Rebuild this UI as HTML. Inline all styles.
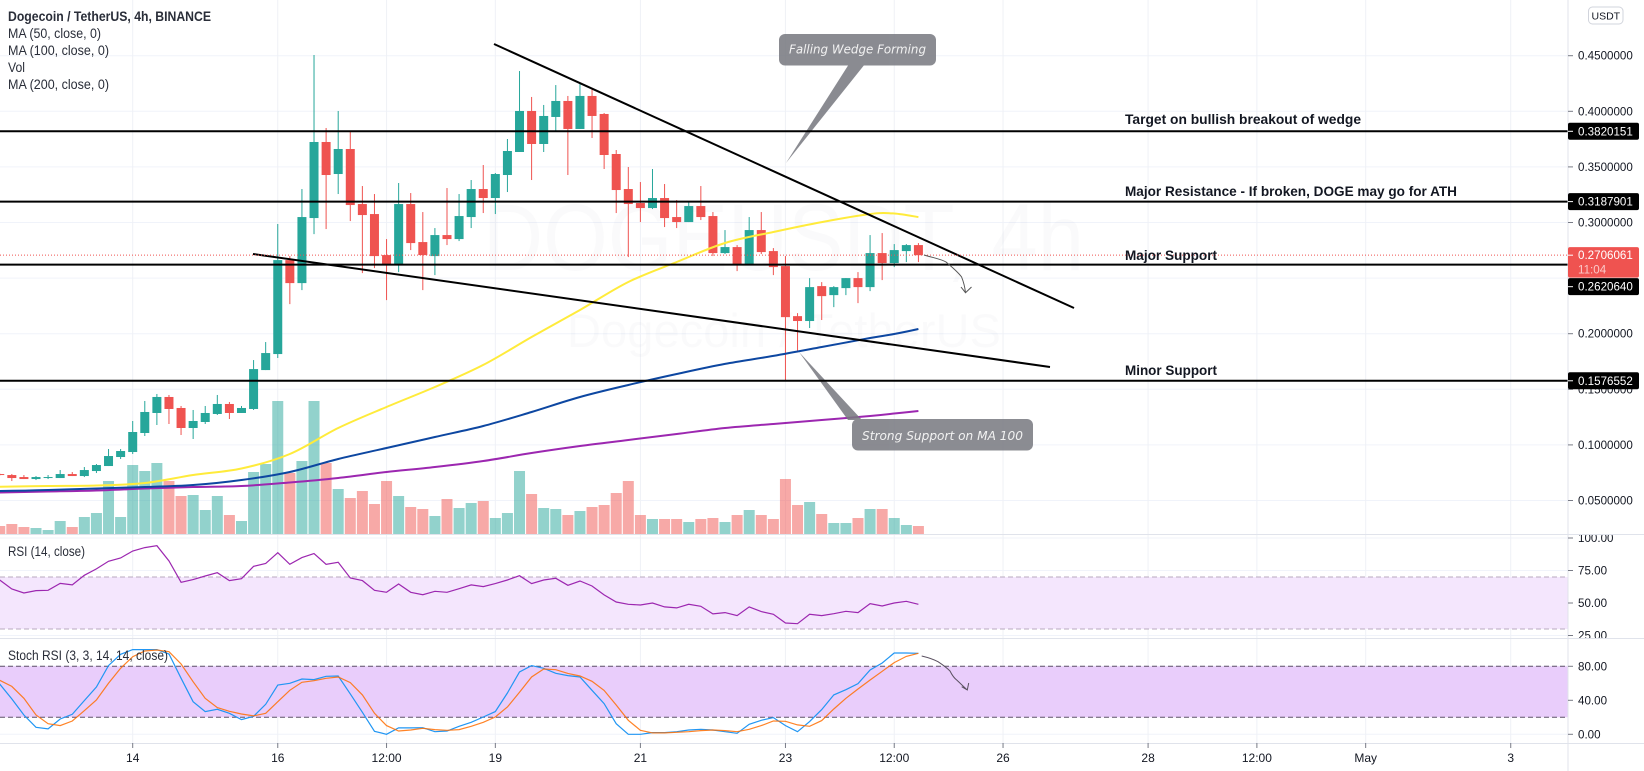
<!DOCTYPE html>
<html lang="en">
<head>
<meta charset="utf-8">
<title>Dogecoin / TetherUS, 4h chart</title>
<style>
html,body{margin:0;padding:0;background:#fff;width:1644px;height:771px;overflow:hidden}
svg{display:block;font-family:"Liberation Sans",sans-serif}
</style>
</head>
<body>
<svg id="chart" xmlns="http://www.w3.org/2000/svg" width="1644" height="771" viewBox="0 0 1644 771">
<defs>
<clipPath id="rsi-clip"><rect x="0" y="535" width="1644" height="103"/></clipPath>
</defs>
<rect x="0" y="0" width="1644" height="771" fill="#ffffff"/>
<g id="grid"></g>
<g fill="#131722" fill-opacity="0.02">
<text x="483" y="270" font-size="95" textLength="601" lengthAdjust="spacingAndGlyphs">DOGEUSDT, 4h</text>
<text x="567" y="347" font-size="47" textLength="434" lengthAdjust="spacingAndGlyphs">Dogecoin / TetherUS</text>
</g>
<rect x="0" y="577" width="1568" height="52" fill="#f4e6fd"/>
<line x1="0" x2="1568" y1="577" y2="577" stroke="#b8aabf" stroke-dasharray="5 3"/>
<line x1="0" x2="1568" y1="629" y2="629" stroke="#b8aabf" stroke-dasharray="5 3"/>
<rect x="0" y="666.3" width="1568" height="51" fill="#e9cdfb"/>
<line x1="0" x2="1568" y1="666.3" y2="666.3" stroke="#5d5068" stroke-dasharray="5 3"/>
<line x1="0" x2="1568" y1="717.3" y2="717.3" stroke="#5d5068" stroke-dasharray="5 3"/>
<g id="volumes"></g>
<g id="candles"></g>
<g id="mas"></g>
<g id="oscillators"></g>
<g opacity="0.86">
<path d="M849 64 L865 64 L786 163 Z" fill="#787980"/>
<rect x="779" y="34" width="157" height="31.5" rx="6" fill="#787980"/>
</g>
<text x="789" y="53.5" font-family="DejaVu Sans, sans-serif" font-style="italic" font-size="12.5" fill="#f2f2f2" textLength="137" lengthAdjust="spacingAndGlyphs">Falling Wedge Forming</text>
<g opacity="0.86">
<path d="M848 420 L862 420 L799 352 Z" fill="#787980"/>
<rect x="852" y="419" width="181" height="31.5" rx="6" fill="#787980"/>
</g>
<text x="862" y="440" font-family="DejaVu Sans, sans-serif" font-style="italic" font-size="12.5" fill="#f2f2f2" textLength="161" lengthAdjust="spacingAndGlyphs">Strong Support on MA 100</text>
<g id="levels"></g>
<line x1="494" y1="44" x2="1074" y2="308" stroke="#000" stroke-width="2"/>
<line x1="253" y1="254" x2="1050" y2="367" stroke="#000" stroke-width="2"/>
<line id="last-price-line" x1="0" x2="1568" stroke="#ef5350" stroke-width="1" stroke-dasharray="1 2"/>
<path d="M924 255 C934 258 941 259 946 262 C952 267 958 272 961.6 277 C964 283 965 288 965.5 292.7 M961 287 L965.5 292.7 L971.5 287" fill="none" stroke="#555" stroke-width="1"/>
<path d="M921.7 656 C928 657.5 933 659 938 661.7 C943 665 947 668 950 671 C952 675 954 678 956.7 680 C961 684 964 687 967.3 690 M961.7 686.7 L967.3 690 L968.7 683" fill="none" stroke="#5a5060" stroke-width="1"/>
<g font-weight="700" font-size="14" fill="#131722">
<text x="1125" y="124" textLength="236" lengthAdjust="spacingAndGlyphs">Target on bullish breakout of wedge</text>
<text x="1125" y="196" textLength="332" lengthAdjust="spacingAndGlyphs">Major Resistance - If broken, DOGE may go for ATH</text>
<text x="1125" y="260" textLength="92" lengthAdjust="spacingAndGlyphs">Major Support</text>
<text x="1125" y="375" textLength="92" lengthAdjust="spacingAndGlyphs">Minor Support</text>
</g>
<g font-size="13.5" fill="#2a2e39">
<text x="8" y="21" font-weight="700" textLength="203" lengthAdjust="spacingAndGlyphs">Dogecoin / TetherUS, 4h, BINANCE</text>
<text x="8" y="38" textLength="93" lengthAdjust="spacingAndGlyphs">MA (50, close, 0)</text>
<text x="8" y="55" textLength="101" lengthAdjust="spacingAndGlyphs">MA (100, close, 0)</text>
<text x="8" y="72" textLength="17" lengthAdjust="spacingAndGlyphs">Vol</text>
<text x="8" y="89" textLength="101" lengthAdjust="spacingAndGlyphs">MA (200, close, 0)</text>
<text x="8" y="556" textLength="77" lengthAdjust="spacingAndGlyphs">RSI (14, close)</text>
<text x="8" y="660" textLength="160" lengthAdjust="spacingAndGlyphs">Stoch RSI (3, 3, 14, 14, close)</text>
</g>
<g stroke="#e0e3eb">
<line x1="1568" x2="1568" y1="0" y2="771"/>
<line x1="0" x2="1644" y1="534.5" y2="534.5"/>
<line x1="0" x2="1644" y1="638.5" y2="638.5"/>
<line x1="0" x2="1644" y1="743.5" y2="743.5"/>
</g>
<g id="price-axis" font-size="11.6" fill="#131722"></g>
<g id="rsi-axis" font-size="11.6" fill="#131722" clip-path="url(#rsi-clip)"></g>
<g id="stoch-axis" font-size="11.6" fill="#131722"></g>
<g id="time-axis" font-size="12" fill="#131722" text-anchor="middle"></g>
<g id="badges" font-size="11.6"></g>
<g>
<rect x="1588.5" y="7" width="34.5" height="17" rx="4" fill="#fff" stroke="#d1d4dc"/>
<text x="1605.8" y="19.5" font-size="10.5" fill="#131722" text-anchor="middle">USDT</text>
</g>
</svg>
<script>
var opens = [.0738,.0729,.0711,.0693,.0702,.0702,.0738,.0720,.0765,.0810,.0891,.0936,.1107,.1287,.1431,.1332,.1152,.1206,.1278,.1368,.1287,.1323,.1673,.1817,.2662,.2455,.3040,.3724,.3436,.3661,.3166,.3076,.2707,.2617,.3166,.2824,.2698,.2887,.2851,.3049,.3301,.3220,.3427,.3634,.4003,.3706,.3949,.4093,.3841,.4138,.3976,.3616,.3301,.3175,.3130,.3220,.3049,.3004,.3148,.3058,.2725,.2779,.2626,.2932,.2743,.2608,.2158,.2114,.2428,.2347,.2410,.2500,.2419,.2725,.2635,.2743,.2797];
var highs = [.0743,.0738,.0729,.0720,.0729,.0774,.0756,.0801,.0828,.0963,.0963,.1215,.1395,.1458,.1449,.1350,.1314,.1350,.1449,.1386,.1350,.1763,.1925,.2986,.2698,.3301,.4506,.3850,.4003,.3814,.3328,.3256,.2851,.3355,.3265,.3094,.2950,.3310,.3256,.3382,.3517,.3445,.3751,.4362,.4129,.4057,.4236,.4138,.4245,.4200,.3985,.3652,.3499,.3364,.3481,.3346,.3202,.3184,.3328,.3094,.2932,.2797,.3049,.3094,.2770,.2698,.2185,.2500,.2464,.2428,.2500,.2554,.2887,.2905,.2806,.2806,.2815];
var lows = [.0725,.0675,.0693,.0684,.0693,.0702,.0720,.0711,.0747,.0810,.0873,.0918,.1080,.1179,.1188,.1089,.1053,.1188,.1269,.1233,.1287,.1314,.1673,.1781,.2266,.2392,.2896,.2941,.3256,.3013,.2545,.2590,.2302,.2554,.2752,.2392,.2527,.2797,.2833,.2950,.3085,.3076,.3274,.3634,.3382,.3634,.3814,.3427,.3841,.3760,.3481,.3085,.2689,.3004,.3121,.2959,.2950,.3004,.3022,.2698,.2716,.2563,.2617,.2716,.2527,.1583,.1835,.2051,.2123,.2239,.2347,.2275,.2383,.2482,.2599,.2644,.2644];
var closes = [.0729,.0702,.0693,.0711,.0711,.0738,.0720,.0774,.0819,.0900,.0945,.1116,.1296,.1431,.1323,.1152,.1215,.1287,.1368,.1287,.1332,.1682,.1826,.2662,.2455,.3049,.3724,.3427,.3661,.3157,.3067,.2698,.2617,.3166,.2815,.2707,.2887,.2851,.3058,.3301,.3220,.3436,.3643,.4003,.3706,.3958,.4093,.3841,.4138,.3958,.3607,.3292,.3166,.3130,.3220,.3040,.3004,.3148,.3049,.2725,.2779,.2626,.2932,.2734,.2599,.2149,.2114,.2419,.2338,.2419,.2500,.2419,.2725,.2635,.2752,.2797,.2706];
var volumes = [16,20,14,12,8,26,14,34,42,106,34,138,126,142,106,76,78,48,76,38,26,124,140,266,122,146,266,142,90,72,86,60,106,76,54,50,36,70,52,62,66,32,42,126,80,52,50,38,46,54,58,82,106,38,30,30,30,24,30,32,24,38,48,38,30,110,58,64,40,22,22,32,50,50,32,18,16];
var maCandles = [-1,3,7,11,15,19,23,27,31,35,39,43,47,51,55,59,63,67,71,73,75];
var ma50 = [.0624,.0630,.0635,.0657,.0729,.0788,.0918,.1152,.1341,.1521,.1719,.1970,.2213,.2465,.2645,.2816,.2915,.3004,.3076,.3081,.3049];
var ma100 = [.0585,.0594,.0608,.0621,.0639,.0684,.0756,.0873,.0972,.1071,.1170,.1296,.1431,.1539,.1638,.1728,.1800,.1880,.1961,.1997,.2042];
var ma200 = [.0572,.0581,.0590,.0608,.0621,.0630,.0662,.0702,.0756,.0801,.0855,.0927,.0990,.1044,.1098,.1152,.1188,.1224,.1260,.1282,.1305];
var rsi = [67.7,60.8,57.7,59.5,59.8,65.1,63.9,71.3,76.2,82.1,84.6,90,92.6,94.1,82.3,65.9,68,70.8,73.3,67.2,68.7,78.2,80.5,88.7,79.8,84.9,88,79.8,81.3,69.2,67.2,59.8,58.2,64.6,58.2,56.4,59,58.2,61,63.9,62.6,64.9,67.7,71,64.9,67.7,69,63.6,66.9,63.1,56.2,50.8,49,48.5,50,47,46.2,49,47.5,41.6,42.6,40.3,47,43.4,41.3,34.6,34.1,41.3,40.3,41.8,43.6,42.6,49.5,47.7,50,51.3,49];
var stochK = [59.2,41.6,22.7,8.2,6.3,18,23.5,39.6,55.7,80.8,94.1,99.6,99.6,99.6,94.5,65.9,38.4,26.7,29.4,24.7,17.3,21.2,35.3,58,60,65.1,64.3,68.2,68.6,47.5,25.9,3.5,0,7.5,7.5,7.8,3.1,3.9,9.4,14.1,20.4,26.7,48.6,73.3,80.8,77.6,71.8,69,67.4,51.8,36.1,12.5,0,0,2,2,3.1,5.1,5.9,5.1,3.1,1.2,11.8,16.5,19.6,10.2,3.1,14.9,29,46.3,52.5,59.6,75.7,83.9,95.6,95.6,95.3];
var stochD = [63.5,56.4,42.3,22.7,12.5,10.2,15.7,27.8,40.4,60,77.6,91.3,98,99.2,97.2,82.7,61.9,42.3,31.4,27,23.9,21.6,24.7,38.4,51.8,61.2,63.1,65.9,67.4,60.8,46.3,24.7,10.2,3.9,5.1,7.1,5.5,4.7,5.5,9.4,14.1,20.4,32.1,49.4,67.4,76.8,76,71.7,68.6,62.3,51.7,34.5,16.5,4.7,1.6,1.6,2.4,3.1,4.3,5.1,4.3,3.1,5.9,10.2,15.7,15.3,11,9.4,16.1,29.8,42.3,53.3,63.9,74.1,84.3,91.7,95.3];
var priceTicks = [0.45,0.40,0.35,0.30,0.25,0.20,0.15,0.10,0.05];
var priceTickLabels = ["0.4500000","0.4000000","0.3500000","0.3000000","","0.2000000","0.1500000","0.1000000","0.0500000"];
var rsiTicks = [100,75,50,25];
var stochTicks = [80,40,0];
var timeTicks = [10,22,31,40,52,64,73,82,94,103,112,124];
var timeLabels = ["14","16","12:00","19","21","23","12:00","26","28","12:00","May","3"];
var levels = [0.3820151,0.3187901,0.2620640,0.1576552];
var lastPrice = 0.2706061;
var countdown = "11:04";
var firstCandle = -1;

var NS = "http://www.w3.org/2000/svg";
function xOf(i){ return 132.7 + (i - 10) * 12.088; }
function priceY(p){ return 556.1 - p * 1112; }
function volY(v){ return 534 - v * 0.5; }
function rsiY(v){ return 538 + (100 - v) * 1.3; }
function stochY(v){ return 734.3 - v * 0.85; }
function make(tag, parentId, attrs, text){
  var el = document.createElementNS(NS, tag);
  for (var k in attrs) el.setAttribute(k, attrs[k]);
  if (text !== undefined) el.textContent = text;
  document.getElementById(parentId).appendChild(el);
  return el;
}
(function(){
var el, i;
/* grid */
for (i = 0; i < priceTicks.length; i++) {
  el = make("line", "grid", {x1:0, x2:1568, y1:priceY(priceTicks[i]), y2:priceY(priceTicks[i]), stroke:"#f0f3fa", "stroke-width":1});
  
  
}
for (i = 0; i < rsiTicks.length; i++) {
  el = make("line", "grid", {x1:0, x2:1568, y1:rsiY(rsiTicks[i]), y2:rsiY(rsiTicks[i]), stroke:"#f0f3fa", "stroke-width":1});
  
  
}
for (i = 0; i < stochTicks.length; i++) {
  el = make("line", "grid", {x1:0, x2:1568, y1:stochY(stochTicks[i]), y2:stochY(stochTicks[i]), stroke:"#f0f3fa", "stroke-width":1});
  
  
}
for (i = 0; i < timeTicks.length; i++) {
  el = make("line", "grid", {x1:xOf(timeTicks[i]), x2:xOf(timeTicks[i]), y1:0, y2:743, stroke:"#eff1f6", "stroke-width":1});
  
  
}
/* volumes and candles */
for (i = 0; i < opens.length; i++) {
  var cx = xOf(i + firstCandle);
  var up = closes[i] >= opens[i];
  el = make("rect", "volumes", {x:cx - 5.5, y:volY(volumes[i]), width:11, height:534 - volY(volumes[i]), fill: up ? "#26a69a" : "#ef5350", "fill-opacity":0.5});
  
  
  var col = up ? "#26a69a" : "#ef5350";
  el = make("line", "candles", {x1:cx, x2:cx, y1:priceY(highs[i]), y2:priceY(lows[i]), stroke:col, "stroke-width":1});
  
  
  var bodyTop = priceY(Math.max(opens[i], closes[i]));
  var bodyBottom = priceY(Math.min(opens[i], closes[i]));
  el = make("rect", "candles", {x:cx - 4.5, y:bodyTop, width:9, height:Math.max(bodyBottom - bodyTop, 1), fill:col});
  
  
}
/* moving averages: smooth curve through the read values */
function maPath(values){
  var pts = values.map(function(v, k){ return [xOf(maCandles[k]), priceY(v)]; });
  var d = "M" + pts[0][0].toFixed(1) + " " + pts[0][1].toFixed(1);
  for (var k = 0; k < pts.length - 1; k++) {
    var p0 = pts[Math.max(k - 1, 0)], p1 = pts[k], p2 = pts[k + 1], p3 = pts[Math.min(k + 2, pts.length - 1)];
    var c1x = p1[0] + (p2[0] - p0[0]) / 6, c1y = p1[1] + (p2[1] - p0[1]) / 6;
    var c2x = p2[0] - (p3[0] - p1[0]) / 6, c2y = p2[1] - (p3[1] - p1[1]) / 6;
    d += " C" + c1x.toFixed(1) + " " + c1y.toFixed(1) + " " + c2x.toFixed(1) + " " + c2y.toFixed(1) + " " + p2[0].toFixed(1) + " " + p2[1].toFixed(1);
  }
  return d;
}
el = make("path", "mas", {d:maPath(ma200), fill:"none", stroke:"#9c27b0", "stroke-width":2});


el = make("path", "mas", {d:maPath(ma100), fill:"none", stroke:"#0d47a1", "stroke-width":2});


el = make("path", "mas", {d:maPath(ma50), fill:"none", stroke:"#ffeb3b", "stroke-width":2});


/* oscillators */
function oscPoints(values, yFn){
  return values.map(function(v, k){ return xOf(k + firstCandle).toFixed(1) + "," + yFn(v).toFixed(1); }).join(" ");
}
el = make("polyline", "oscillators", {points:oscPoints(rsi, rsiY), fill:"none", stroke:"#9c27b0", "stroke-width":1.2});


el = make("polyline", "oscillators", {points:oscPoints(stochK, stochY), fill:"none", stroke:"#2196f3", "stroke-width":1.2});


el = make("polyline", "oscillators", {points:oscPoints(stochD, stochY), fill:"none", stroke:"#ff6d00", "stroke-width":1.2, "stroke-opacity":0.85});


/* horizontal levels */
for (i = 0; i < levels.length; i++) {
  el = make("line", "levels", {x1:0, x2:1568, y1:priceY(levels[i]), y2:priceY(levels[i]), stroke:"#000", "stroke-width":2});
  
  
}
document.getElementById("last-price-line").setAttribute("y1", priceY(lastPrice));
document.getElementById("last-price-line").setAttribute("y2", priceY(lastPrice));
/* axes */
for (i = 0; i < priceTicks.length; i++) {
  if (!priceTickLabels[i]) continue;
  var py = priceY(priceTicks[i]);
  el = make("line", "price-axis", {x1:1568, x2:1573, y1:py, y2:py, stroke:"#787b86"});
  
  
  el = make("text", "price-axis", {x:1578, y:py + 4}, priceTickLabels[i]);
  
  
}
for (i = 0; i < rsiTicks.length; i++) {
  el = make("line", "rsi-axis", {x1:1568, x2:1573, y1:rsiY(rsiTicks[i]), y2:rsiY(rsiTicks[i]), stroke:"#787b86"});
  
  
  el = make("text", "rsi-axis", {x:1578, y:rsiY(rsiTicks[i]) + 4}, rsiTicks[i].toFixed(2));
  
  
}
for (i = 0; i < stochTicks.length; i++) {
  el = make("line", "stoch-axis", {x1:1568, x2:1573, y1:stochY(stochTicks[i]), y2:stochY(stochTicks[i]), stroke:"#787b86"});
  
  
  el = make("text", "stoch-axis", {x:1578, y:stochY(stochTicks[i]) + 4}, stochTicks[i].toFixed(2));
  
  
}
for (i = 0; i < timeTicks.length; i++) {
  var tx = xOf(timeTicks[i]);
  el = make("line", "time-axis", {x1:tx, x2:tx, y1:743, y2:748, stroke:"#787b86"});
  
  
  el = make("text", "time-axis", {x:tx, y:762}, timeLabels[i]);
  
  
}
/* badges */
var badgeOffsets = [0, 0, 22, 0];
for (i = 0; i < levels.length; i++) {
  var by = priceY(levels[i]) + badgeOffsets[i];
  el = make("rect", "badges", {x:1568, y:by - 8.5, width:71, height:17, rx:2, fill:"#000"});
  
  
  el = make("line", "badges", {x1:1568, x2:1573, y1:by, y2:by, stroke:"#fff"});
  
  
  el = make("text", "badges", {x:1578, y:by + 4, fill:"#fff"}, levels[i].toFixed(7));
  
  
}
var lastY = priceY(lastPrice);
el = make("rect", "badges", {x:1568, y:lastY - 8, width:71, height:30.5, rx:2, fill:"#ef5350"});


el = make("line", "badges", {x1:1568, x2:1573, y1:lastY, y2:lastY, stroke:"#fff"});


el = make("text", "badges", {x:1578, y:lastY + 4, fill:"#fff"}, lastPrice.toFixed(7));


el = make("text", "badges", {x:1578, y:lastY + 18.5, fill:"#fbc9c8"}, countdown);


})();
</script>
</body>
</html>
